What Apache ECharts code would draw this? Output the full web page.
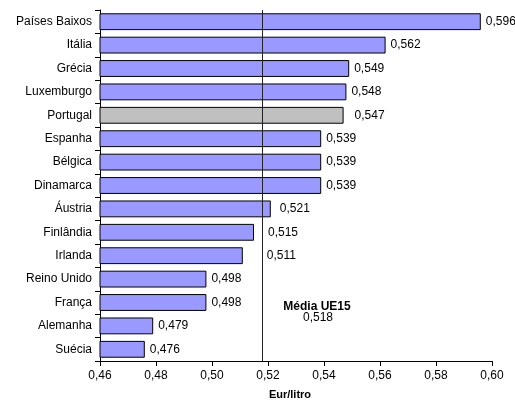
<!DOCTYPE html>
<html>
<head>
<meta charset="utf-8">
<script src="https://cdn.jsdelivr.net/npm/echarts@6/dist/echarts.min.js"></script>
<style>html,body{margin:0;padding:0;background:#fff}#c{width:515px;height:405px}</style>
</head>
<body>
<div id="c"></div>
<script>
const categories = ['Países Baixos','Itália','Grécia','Luxemburgo','Portugal','Espanha','Bélgica','Dinamarca','Áustria','Finlândia','Irlanda','Reino Unido','França','Alemanha','Suécia'];
const values = [0.596,0.562,0.549,0.548,0.547,0.539,0.539,0.539,0.521,0.515,0.511,0.498,0.498,0.479,0.476];
const meanValue = 0.518;
const meanTitle = 'Média UE15';
const xTicks = [0.46,0.48,0.50,0.52,0.54,0.56,0.58,0.60];
const highlight = 'Portugal';

const FONT = '"Liberation Sans", Arial, sans-serif';
const fmt = v => v.toFixed(3).replace('.', ',');
const labelDistance = {'Portugal': 11, 'Áustria': 9, 'Finlândia': 14, 'Irlanda': 24};

const data = values.map((v, i) => ({
  value: v,
  itemStyle: { color: categories[i] === highlight ? '#C0C0C0' : '#9999FF' },
  label: { distance: labelDistance[categories[i]] || 5 }
}));

const chart = echarts.init(document.getElementById('c'), null, {renderer: 'canvas'});
chart.setOption({
  animation: false,
  backgroundColor: '#fff',
  grid: { left: 100, right: 23, top: 10, bottom: 42, containLabel: false },
  xAxis: {
    type: 'value',
    min: xTicks[0], max: xTicks[xTicks.length - 1], interval: 0.02,
    name: 'Eur/litro', nameLocation: 'middle', nameGap: 28,
    nameTextStyle: { fontFamily: FONT, fontSize: 11, fontWeight: 'bold', color: '#000', padding: [0, 12, 0, 0] },
    axisLine: { show: true, lineStyle: { color: '#000', width: 1 } },
    axisTick: { show: true, length: 5, lineStyle: { color: '#000' } },
    axisLabel: { margin: 9, fontFamily: FONT, fontSize: 12, color: '#000', formatter: v => v.toFixed(2).replace('.', ',') },
    splitLine: { show: false }
  },
  yAxis: {
    type: 'category', data: categories, inverse: true,
    axisLine: { show: true, lineStyle: { color: '#000', width: 1 } },
    axisTick: { show: true, length: 5, alignWithLabel: false, lineStyle: { color: '#000' } },
    axisLabel: { margin: 8, fontFamily: FONT, fontSize: 12, color: '#000' },
    splitLine: { show: false }
  },
  series: [{
    type: 'bar',
    data: data,
    barCategoryGap: '28%',
    itemStyle: { borderColor: '#000', borderWidth: 1 },
    label: { show: true, position: 'right', fontFamily: FONT, fontSize: 12, color: '#000', formatter: p => fmt(p.value) },
    markLine: {
      silent: true, symbol: 'none', precision: 4,
      lineStyle: { color: '#222', width: 1, type: 'solid' },
      label: { show: false },
      data: [{ xAxis: meanValue }],
      z: 10
    }
  }]
});

const px = chart.convertToPixel({xAxisIndex: 0}, 0.5375);
const py = chart.convertToPixel({yAxisIndex: 0}, 'França');
chart.setOption({
  graphic: [
    { type: 'text', x: px, y: py + 4, style: { text: meanTitle, font: 'bold 12px ' + FONT, fill: '#000', align: 'center', verticalAlign: 'middle' } },
    { type: 'text', x: px + 1, y: py + 15, style: { text: fmt(meanValue), font: '12px ' + FONT, fill: '#000', align: 'center', verticalAlign: 'middle' } }
  ]
});
</script>
</body>
</html>
